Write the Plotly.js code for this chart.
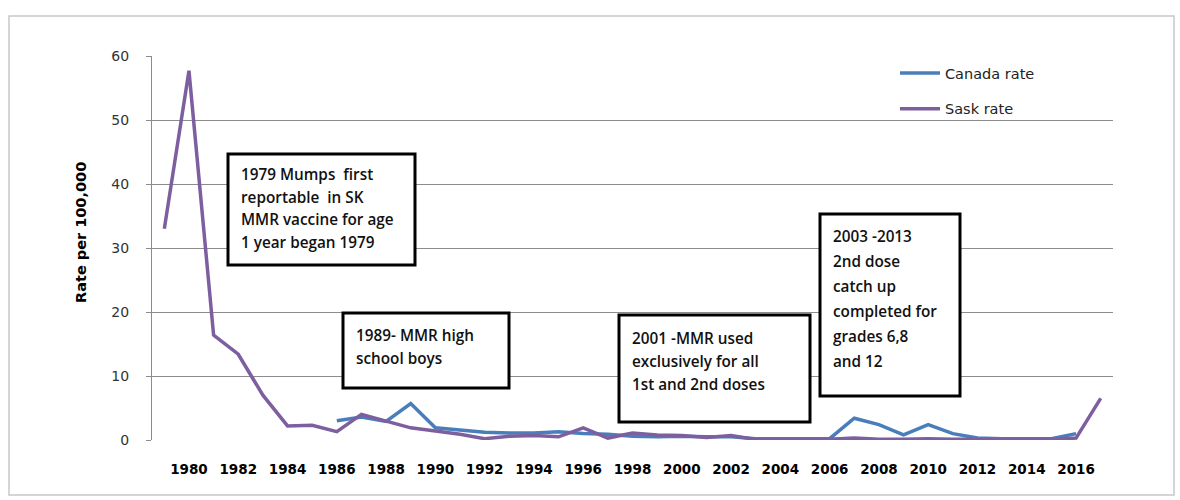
<!DOCTYPE html>
<html><head><meta charset="utf-8">
<script src="https://cdn.plot.ly/plotly-3.0.1.min.js"></script>
<style>html,body{margin:0;padding:0;background:#fff}#chart{width:1180px;height:500px}</style>
</head><body><div id="chart"></div>
<script>
const years = [1979,1980,1981,1982,1983,1984,1985,1986,1987,1988,1989,1990,1991,1992,1993,1994,1995,1996,1997,1998,1999,2000,2001,2002,2003,2004,2005,2006,2007,2008,2009,2010,2011,2012,2013,2014,2015,2016,2017];
const canadaRate = [null,null,null,null,null,null,null,3.0,3.6,2.9,5.7,1.9,1.5,1.2,1.1,1.1,1.3,1.0,0.9,0.6,0.5,0.6,0.5,0.5,0.2,0.2,0.2,0.2,3.4,2.4,0.8,2.4,1.0,0.3,0.2,0.2,0.2,1.0,null];
const saskRate = [33,57.7,16.4,13.4,7.0,2.2,2.3,1.3,4.0,2.9,1.9,1.4,0.9,0.2,0.6,0.7,0.5,1.9,0.3,1.1,0.8,0.7,0.4,0.7,0.1,0.1,0.1,0.1,0.3,0.1,0.1,0.2,0.1,0.1,0.1,0.1,0.1,0.3,6.5];
const tickYears = [1980,1982,1984,1986,1988,1990,1992,1994,1996,1998,2000,2002,2004,2006,2008,2010,2012,2014,2016];
const seriesNames = ["Canada rate","Sask rate"];
const yTitle = "Rate per 100,000";
const notes = [
  ["1979 Mumps  first","reportable  in SK","MMR vaccine for age","1 year began 1979"],
  ["1989- MMR high","school boys"],
  ["2001 -MMR used","exclusively for all","1st and 2nd doses"],
  ["2003 -2013","2nd dose","catch up","completed for","grades 6,8","and 12"]
];

const L=152, R=1113, T=56, B=440, W=1180, H=500;
const pw=R-L, ph=B-T;
const px = x => (x-L)/pw;
const py = y => (B-y)/ph;
const boxes = [[228,154,415,265],[343,313,509,388],[619,315,810,422],[820,214,960,396]];
const firstLine = [174,335,338,236];
const lineGap = [22.5,23,23,25];

const shapes = boxes.map(b=>({type:'rect',xref:'paper',yref:'paper',x0:px(b[0]),x1:px(b[2]),y0:py(b[3]),y1:py(b[1]),
  line:{color:'#000',width:3},fillcolor:'#fff',layer:'above'}));
shapes.push({type:'rect',xref:'paper',yref:'paper',x0:px(9),x1:px(1174),y0:py(495),y1:py(16),line:{color:'#c8c8c8',width:1.5},layer:'below'});

const annotations = [];
notes.forEach((lines,i)=>{
  lines.forEach((t,j)=>{
    annotations.push({xref:'paper',yref:'paper',x:px(boxes[i][0]+11),y:py(firstLine[i]+j*lineGap[i]),
      xanchor:'left',yanchor:'middle',align:'left',showarrow:false,text:t,
      font:{family:'"Open Sans", sans-serif',size:15.3,weight:600,color:'#111'}});
  });
});
annotations.push({xref:'paper',yref:'paper',x:px(81),y:py(233),xanchor:'center',yanchor:'middle',textangle:-90,showarrow:false,
  text:yTitle,font:{family:'"DejaVu Sans", Verdana, sans-serif',size:14.5,weight:'bold',color:'#000'}});

const traces = [
  {x:years,y:canadaRate,name:seriesNames[0],type:'scatter',mode:'lines',line:{color:'#4a7ebb',width:3.5},legendgroup:'a',connectgaps:false},
  {x:years,y:saskRate,name:seriesNames[1],type:'scatter',mode:'lines',line:{color:'#7d5fa0',width:3.5},legendgroup:'b'}
];

const layout = {
  width:W,height:H,
  margin:{l:L,r:W-R,t:T,b:H-B,pad:0},
  paper_bgcolor:'#fff',plot_bgcolor:'#fff',
  showlegend:true,
  legend:{x:px(895),y:py(57),xanchor:'left',yanchor:'top',bgcolor:'rgba(0,0,0,0)',
    font:{family:'"DejaVu Sans", Verdana, sans-serif',size:14.5,color:'#222'},tracegroupgap:14,itemwidth:40},
  xaxis:{range:[1978.5,2017.5],tickvals:tickYears,ticktext:tickYears.map(String),showgrid:false,zeroline:false,
    showline:false,ticks:'',ticklabelstandoff:19,
    tickfont:{family:'"DejaVu Sans", Verdana, sans-serif',size:13.5,weight:'bold',color:'#000'}},
  yaxis:{range:[0,60],dtick:10,showgrid:true,gridcolor:'#8c8c8c',gridwidth:1,zeroline:false,
    showline:true,linecolor:'#8c8c8c',linewidth:1,ticks:'outside',ticklen:5,tickcolor:'#8c8c8c',ticklabelstandoff:14,
    tickfont:{family:'"DejaVu Sans", Verdana, sans-serif',size:14,color:'#333'}},
  shapes:shapes,
  annotations:annotations
};
Plotly.newPlot('chart',traces,layout,{displayModeBar:false,staticPlot:true});
</script></body></html>
